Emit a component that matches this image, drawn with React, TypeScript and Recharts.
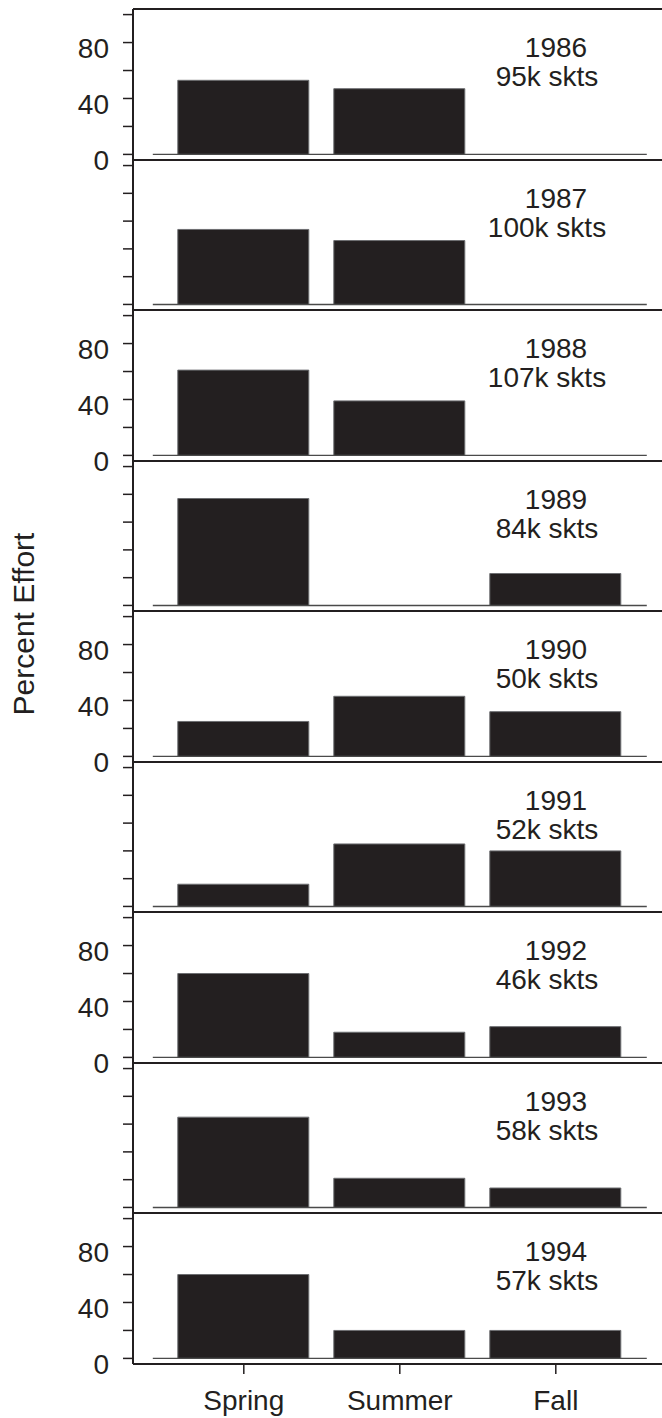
import React from 'react';
import { BarChart, Bar, XAxis, YAxis, ReferenceLine } from 'recharts';

// Seasonal distribution of fishing effort, one panel per year
const seasons = ['Spring', 'Summer', 'Fall'];
const years = ['1986', '1987', '1988', '1989', '1990', '1991', '1992', '1993', '1994'];
const effortTotals = ['95k skts', '100k skts', '107k skts', '84k skts', '50k skts', '52k skts', '46k skts', '58k skts', '57k skts'];
const springPct = [53, 54, 61, 77, 25, 16, 60, 65, 60];
const summerPct = [47, 46, 39, 0, 43, 45, 18, 21, 20];
const fallPct = [0, 0, 0, 23, 32, 40, 22, 14, 20];
const yTicks = [0, 20, 40, 60, 80, 100];
const yTickLabels = [0, 40, 80];

const INK = '#231f20';
const FONT = '"Liberation Sans", Arial, Helvetica, sans-serif';
const FS = 28;

const WIDTH = 662;
const FIRST_TOP = 9.3;
const PANEL_H = 150.5;
const PAD = 20;
const AXIS_W = 133;
const Y_DOMAIN: [number, number] = [-4, 104];
// x units: one unit per season, bars 5/6 of a unit wide
const X_DOMAIN: [number, number] = [0.2897, 3.6808];
const BASE_FROM = 0.4167;
const BASE_TO = 3.5833;

const panelTop = (i: number) => Math.round(FIRST_TOP + PANEL_H * i);

function makeYTick(labelled: boolean) {
  return (props: any) => {
    const { x, y, payload } = props;
    if (!labelled || !yTickLabels.includes(payload.value)) return <g />;
    return (
      <text x={x} y={y + 5.5} dy="0.355em" textAnchor="end" fontFamily={FONT} fontSize={FS} fill={INK}>
        {payload.value}
      </text>
    );
  };
}

const XTick = (props: any) => {
  const { x, y, payload } = props;
  return (
    <text x={x} y={y + 36} textAnchor="middle" fontFamily={FONT} fontSize={FS} fill={INK}>
      {seasons[payload.value - 1]}
    </text>
  );
};

function Panel({ index }: { index: number }) {
  const top = panelTop(index);
  const h = panelTop(index + 1) - top;
  const last = index === years.length - 1;
  const values = [springPct[index], summerPct[index], fallPct[index]];
  const data = seasons.map((s, j) => ({ season: s, pos: j + 1, pct: values[j] }));
  const xAxisH = last ? 60 : 0;
  return (
    <div style={{ position: 'absolute', left: 0, top: top - PAD }}>
      <BarChart
        width={WIDTH}
        height={h + PAD * 2 + xAxisH}
        data={data}
        margin={{ top: PAD, right: 0, bottom: PAD, left: 0 }}
      >
        <XAxis
          type="number"
          dataKey="pos"
          domain={X_DOMAIN}
          allowDataOverflow
          ticks={[1, 2, 3]}
          hide={!last}
          height={xAxisH}
          axisLine={{ stroke: INK, strokeWidth: 2 }}
          tickLine={{ stroke: INK, strokeWidth: 1.5 }}
          tickSize={10}
          tickMargin={0}
          tick={XTick}
          interval={0}
        />
        <YAxis
          type="number"
          domain={Y_DOMAIN}
          allowDataOverflow
          ticks={yTicks}
          width={AXIS_W}
          axisLine={{ stroke: INK, strokeWidth: 2 }}
          tickLine={{ stroke: INK, strokeWidth: 1.5 }}
          tickSize={10}
          tickMargin={14}
          tick={makeYTick(index % 2 === 0)}
          interval={0}
        />
        <ReferenceLine y={Y_DOMAIN[1]} stroke={INK} strokeWidth={2} ifOverflow="visible" />
        <ReferenceLine
          segment={[{ x: BASE_FROM, y: 0 }, { x: BASE_TO, y: 0 }]}
          stroke="#4a4a4a"
          strokeWidth={1.4}
          ifOverflow="visible"
        />
        <Bar dataKey="pct" barSize={131} fill={INK} stroke="#6d6e71" strokeWidth={1} isAnimationActive={false} />
      </BarChart>
    </div>
  );
}

export default function App() {
  return (
    <div style={{ position: 'absolute', left: 0, top: 0, width: WIDTH, height: 1418, background: '#fff', overflow: 'hidden' }}>
      {years.map((_, i) => (
        <Panel key={i} index={i} />
      ))}
      <svg
        width={WIDTH}
        height={1418}
        style={{ position: 'absolute', left: 0, top: 0, pointerEvents: 'none' }}
      >
        <text
          x={34}
          y={624}
          transform="rotate(-90, 34, 624)"
          textAnchor="middle"
          fontFamily={FONT}
          fontSize={30}
          fill={INK}
        >
          Percent Effort
        </text>
        {years.map((yr, i) => {
          const t = panelTop(i);
          return (
            <g key={yr}>
              <text x={556} y={t + 48} textAnchor="middle" fontFamily={FONT} fontSize={FS} fill={INK}>
                {yr}
              </text>
              <text x={547} y={t + 76.5} textAnchor="middle" fontFamily={FONT} fontSize={FS} fill={INK}>
                {effortTotals[i]}
              </text>
            </g>
          );
        })}
      </svg>
    </div>
  );
}
